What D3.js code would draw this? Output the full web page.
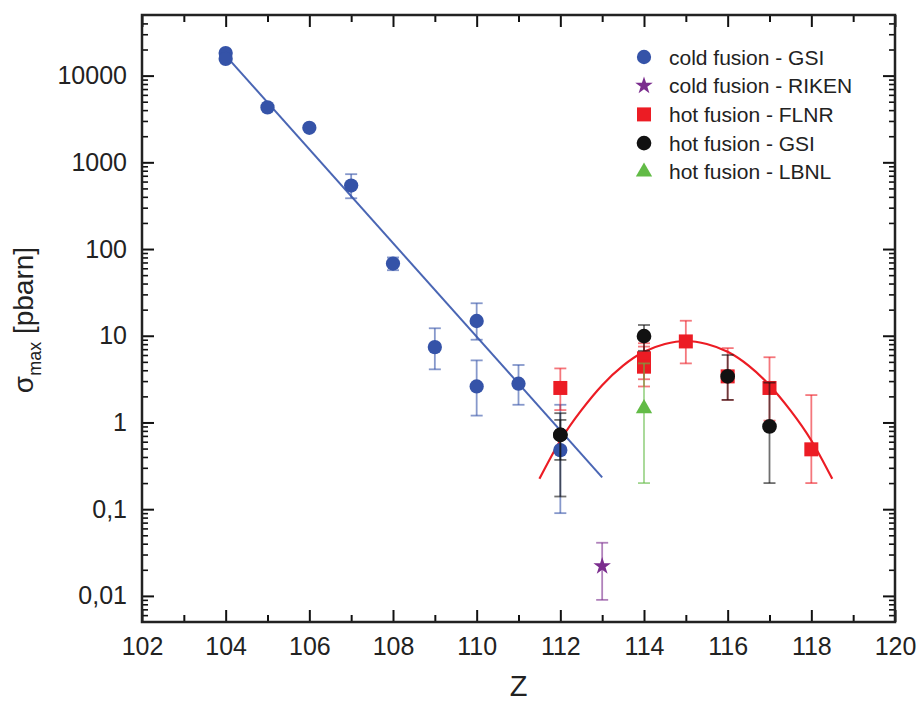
<!DOCTYPE html>
<html>
<head>
<meta charset="utf-8">
<script src="https://cdn.jsdelivr.net/npm/d3@7"></script>
<style>
  html, body { margin: 0; padding: 0; background: #fff; }
  svg { display: block; font-family: "Liberation Sans", Arial, sans-serif; }
</style>
</head>
<body>
<svg id="chart" width="919" height="705"></svg>
<script>
// ---------------- data ----------------
const xTickLabels = [102, 104, 106, 108, 110, 112, 114, 116, 118, 120];
const yTickValues = [0.01, 0.1, 1, 10, 100, 1000, 10000];
const yTickLabels = ["0,01", "0,1", "1", "10", "100", "1000", "10000"];

// cold fusion - GSI
const coldGsiZ   = [104, 104, 105, 106, 107, 108, 109, 110, 110, 111, 112];
const coldGsiVal = [18200, 15600, 4300, 2500, 540, 68, 7.4, 14.8, 2.6, 2.8, 0.48];
const coldGsiHi  = [null, null, null, null, 730, 80, 12.2, 23.7, 5.2, 4.6, 1.6];
const coldGsiLo  = [null, null, null, null, 385, 57, 4.1, 9.0, 1.2, 1.6, 0.09];

// cold fusion - RIKEN
const coldRikenZ   = [113];
const coldRikenVal = [0.022];
const coldRikenHi  = [0.041];
const coldRikenLo  = [0.009];

// hot fusion - FLNR
const hotFlnrZ   = [112, 114, 114, 115, 116, 117, 118];
const hotFlnrVal = [2.5, 5.5, 4.4, 8.6, 3.4, 2.5, 0.49];
const hotFlnrHi  = [4.2, 8.2, 7.5, 14.9, 7.2, 5.65, 2.07];
const hotFlnrLo  = [1.39, 3.15, 2.6, 4.8, 1.82, 1.05, 0.2];

// hot fusion - GSI
const hotGsiZ   = [112, 112, 114, 116, 117];
const hotGsiVal = [0.72, 0.72, 9.9, 3.4, 0.9];
const hotGsiHi  = [1.28, 1.07, 13.3, 6.0, 2.88];
const hotGsiLo  = [0.14, 0.37, 6.7, 1.82, 0.2];

// hot fusion - LBNL
const hotLbnlZ   = [114];
const hotLbnlVal = [1.45];
const hotLbnlHi  = [4.8];
const hotLbnlLo  = [0.2];

// fit lines
const coldFitZ   = [104, 113];
const coldFitVal = [17000, 0.233];
const hotFitZ   = [111.5, 112, 112.5, 113, 113.5, 114, 114.5, 115, 115.5, 116, 116.5, 117, 117.5, 118, 118.5];
const hotFitVal = [0.224, 0.62, 1.38, 2.69, 4.52, 6.53, 8.04, 8.7, 8.04, 6.53, 4.52, 2.69, 1.38, 0.62, 0.224];

const legendLabels = ["cold fusion - GSI", "cold fusion - RIKEN", "hot fusion - FLNR", "hot fusion - GSI", "hot fusion - LBNL"];

// ---------------- chart ----------------
const svg = d3.select("#chart");
const L = 142, R = 895, T = 15, B = 622;
const x = d3.scaleLinear().domain([102, 120]).range([L, R]);
const y = d3.scaleLog().domain([0.005, 50000]).range([B, T]);

const COL = {
  blue: "#3553a8", purple: "#7b2d8e", red: "#ec1c24", black: "#111111", green: "#62bb46"
};

// minor tick values
const yMinor = [];
for (let e = -3; e <= 4; e++) {
  for (let m = 2; m <= 9; m++) {
    const v = m * Math.pow(10, e);
    if (v > 0.005 && v < 50000) yMinor.push(v);
  }
}
const xMinor = d3.range(103, 120, 2);

function styleAxis(g, w) {
  g.select(".domain").remove();
  g.selectAll(".tick line").attr("stroke", "#111").attr("stroke-width", w);
}

// bottom
svg.append("g").attr("transform", `translate(0,${B})`)
  .call(d3.axisBottom(x).tickValues(xTickLabels).tickSize(-12).tickPadding(15).tickFormat(d3.format("d")))
  .call(g => styleAxis(g, 2))
  .call(g => g.selectAll("text").attr("font-size", 25).attr("fill", "#222").attr("font-family", "Liberation Sans, Arial, sans-serif"));
svg.append("g").attr("transform", `translate(0,${B})`)
  .call(d3.axisBottom(x).tickValues(xMinor).tickSize(-7).tickFormat(""))
  .call(g => styleAxis(g, 2));
// top
svg.append("g").attr("transform", `translate(0,${T})`)
  .call(d3.axisTop(x).tickValues(xTickLabels).tickSize(-12).tickFormat(""))
  .call(g => styleAxis(g, 2));
svg.append("g").attr("transform", `translate(0,${T})`)
  .call(d3.axisTop(x).tickValues(xMinor).tickSize(-7).tickFormat(""))
  .call(g => styleAxis(g, 2));
// left
svg.append("g").attr("transform", `translate(${L},0)`)
  .call(d3.axisLeft(y).tickValues(yTickValues).tickSize(-12).tickPadding(15)
    .tickFormat((d, i) => yTickLabels[i]))
  .call(g => styleAxis(g, 2))
  .call(g => g.selectAll("text").attr("font-size", 25).attr("fill", "#222").attr("font-family", "Liberation Sans, Arial, sans-serif"));
svg.append("g").attr("transform", `translate(${L},0)`)
  .call(d3.axisLeft(y).tickValues(yMinor).tickSize(-6).tickFormat(""))
  .call(g => styleAxis(g, 1.6));
// right
svg.append("g").attr("transform", `translate(${R},0)`)
  .call(d3.axisRight(y).tickValues(yTickValues).tickSize(-12).tickFormat(""))
  .call(g => styleAxis(g, 2));
svg.append("g").attr("transform", `translate(${R},0)`)
  .call(d3.axisRight(y).tickValues(yMinor).tickSize(-6).tickFormat(""))
  .call(g => styleAxis(g, 1.6));

// frame
svg.append("rect").attr("x", L).attr("y", T).attr("width", R - L).attr("height", B - T)
  .attr("fill", "none").attr("stroke", "#222").attr("stroke-width", 2.5);

// axis titles
svg.append("text").attr("x", (L + R) / 2).attr("y", 696).attr("text-anchor", "middle")
  .attr("font-size", 29).attr("fill", "#222").text("Z");
const yt = svg.append("text").attr("transform", "translate(33,320) rotate(-90)")
  .attr("text-anchor", "middle").attr("font-size", 28).attr("fill", "#222");
yt.append("tspan").text("σ");
yt.append("tspan").attr("font-size", 18).attr("dy", 8).text("max");
yt.append("tspan").attr("dy", -8).text(" [pbarn]");

const plot = svg.append("g");

// fit lines
const line = d3.line().x(d => x(d[0])).y(d => y(d[1]));
plot.append("path").datum(d3.zip(coldFitZ, coldFitVal))
  .attr("d", line).attr("fill", "none").attr("stroke", "#4a66b4").attr("stroke-width", 2);
plot.append("path").datum(d3.zip(hotFitZ, hotFitVal))
  .attr("d", d3.line().x(d => x(d[0])).y(d => y(d[1])).curve(d3.curveNatural))
  .attr("fill", "none").attr("stroke", COL.red).attr("stroke-width", 2.2);

// series
const series = [
  { Z: coldGsiZ, v: coldGsiVal, hi: coldGsiHi, lo: coldGsiLo, color: COL.blue, sym: d3.symbolCircle, size: 160 },
  { Z: coldRikenZ, v: coldRikenVal, hi: coldRikenHi, lo: coldRikenLo, color: COL.purple, sym: d3.symbolStar, size: 95 },
  { Z: hotFlnrZ, v: hotFlnrVal, hi: hotFlnrHi, lo: hotFlnrLo, color: COL.red, sym: d3.symbolSquare, size: 196 },
  { Z: hotGsiZ, v: hotGsiVal, hi: hotGsiHi, lo: hotGsiLo, color: COL.black, sym: d3.symbolCircle, size: 170 },
  { Z: hotLbnlZ, v: hotLbnlVal, hi: hotLbnlHi, lo: hotLbnlLo, color: COL.green, sym: d3.symbolTriangle, size: 115 }
];

const cap = 6;
series.forEach(s => {
  const g = plot.append("g");
  const pts = s.Z.map((z, i) => ({ z, v: s.v[i], hi: s.hi[i], lo: s.lo[i] }));
  const eb = g.selectAll("g.eb").data(pts.filter(p => p.hi != null)).join("g")
    .attr("stroke", s.color).attr("stroke-opacity", 0.6).attr("stroke-width", 1.8);
  eb.append("line").attr("x1", p => x(p.z)).attr("x2", p => x(p.z)).attr("y1", p => y(p.hi)).attr("y2", p => y(p.lo));
  eb.append("line").attr("x1", p => x(p.z) - cap).attr("x2", p => x(p.z) + cap).attr("y1", p => y(p.hi)).attr("y2", p => y(p.hi));
  eb.append("line").attr("x1", p => x(p.z) - cap).attr("x2", p => x(p.z) + cap).attr("y1", p => y(p.lo)).attr("y2", p => y(p.lo));
  g.selectAll("path.m").data(pts).join("path").attr("class", "m")
    .attr("transform", p => `translate(${x(p.z)},${y(p.v)})`)
    .attr("d", d3.symbol(s.sym, s.size)).attr("fill", s.color);
});

// legend
const lg = svg.append("g");
legendLabels.forEach((t, i) => {
  const cy = 57 + i * 28.7;
  const s = series[i];
  lg.append("path").attr("transform", `translate(644,${cy})`)
    .attr("d", d3.symbol(s.sym, s.size)).attr("fill", s.color);
  lg.append("text").attr("x", 669).attr("y", cy + 7.5).attr("font-size", 21).attr("fill", "#222").text(t);
});
</script>
</body>
</html>
